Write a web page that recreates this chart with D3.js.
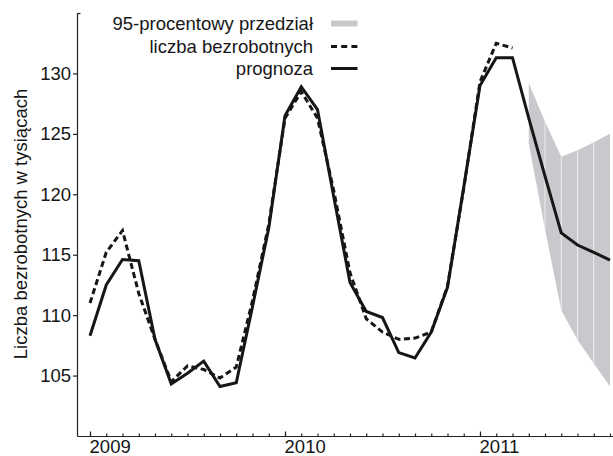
<!DOCTYPE html>
<html>
<head>
<meta charset="utf-8">
<script src="https://cdn.jsdelivr.net/npm/d3@7"></script>
<style>
  body { margin: 0; background: #fff; }
  text { font-family: "Liberation Sans", Arial, sans-serif; }
</style>
</head>
<body>
<div id="chart-container"></div>
<script>
// monthly data, Jan 2009 - Sep 2011
var months = ["2009-01","2009-02","2009-03","2009-04","2009-05","2009-06","2009-07","2009-08","2009-09","2009-10","2009-11","2009-12",
              "2010-01","2010-02","2010-03","2010-04","2010-05","2010-06","2010-07","2010-08","2010-09","2010-10","2010-11","2010-12",
              "2011-01","2011-02","2011-03","2011-04","2011-05","2011-06","2011-07","2011-08","2011-09"];

// liczba bezrobotnych (Jan 2009 - Mar 2011)
var actual = [111.0, 115.2, 117.0, 111.8, 108.0, 104.5, 105.8, 105.5, 104.8, 105.7, 111.2, 117.5,
              126.3, 128.5, 126.3, 120.3, 113.5, 109.7, 108.6, 108.0, 108.1, 108.6, 112.4, 120.5,
              129.3, 132.5, 132.1];

// prognoza (Jan 2009 - Sep 2011)
var forecast = [108.3, 112.5, 114.6, 114.5, 108.0, 104.3, 105.2, 106.2, 104.1, 104.4, 110.7, 117.2,
                126.5, 128.9, 127.0, 119.8, 112.7, 110.3, 109.8, 106.9, 106.45, 108.6, 112.3, 120.6,
                129.0, 131.3, 131.3, 126.3, 121.5, 116.8, 115.8, 115.2, 114.55];

// 95-procentowy przedzial
var bandMonths = ["2011-04","2011-05","2011-06","2011-07","2011-08","2011-09"];
var lower = [124.2, 117.1, 110.4, 107.95, 106.0, 104.1];
var upper = [129.2, 126.0, 123.1, 123.65, 124.3, 125.0];

var yTicks = [105, 110, 115, 120, 125, 130];
var yearTicks = ["2009-01", "2010-01", "2011-01"];

var legendItems = ["95-procentowy przedział", "liczba bezrobotnych", "prognoza"];

var W = 613, H = 456;
var ink = "#161616";

var svg = d3.select("#chart-container")
    .append("svg")
    .attr("width", W)
    .attr("height", H);

var x = d3.scaleLinear()
    .domain([-0.8, 32.2])
    .range([77, 613.25]);

var y = d3.scaleLinear()
    .domain([100, 135])
    .range([436, 13]);

function mi(m) { return months.indexOf(m); }

// band, one piece per month so the white seams show
var band = bandMonths.map(function(m, i) {
    return { i: mi(m), lo: lower[i], hi: upper[i] };
});
var area = d3.area()
    .x(function(d) { return x(d.i); })
    .y0(function(d) { return y(d.lo); })
    .y1(function(d) { return y(d.hi); });

for (var k = 0; k < band.length - 1; k++) {
    svg.append("path")
        .datum([band[k], band[k + 1]])
        .attr("fill", "#c8c9cc")
        .attr("d", area);
}
svg.selectAll("line.seam")
    .data(band.slice(1, band.length - 1))
    .enter().append("line")
    .attr("class", "seam")
    .attr("x1", function(d) { return x(d.i); })
    .attr("x2", function(d) { return x(d.i); })
    .attr("y1", function(d) { return y(d.hi); })
    .attr("y2", function(d) { return y(d.lo); })
    .attr("stroke", "#ededee")
    .attr("stroke-width", 1);

var line = d3.line()
    .x(function(d, i) { return x(i); })
    .y(function(d) { return y(d); });

svg.append("path")
    .datum(actual)
    .attr("fill", "none")
    .attr("stroke", ink)
    .attr("stroke-width", 3)
    .attr("stroke-dasharray", "6,3.5")
    .attr("d", line);

svg.append("path")
    .datum(forecast)
    .attr("fill", "none")
    .attr("stroke", ink)
    .attr("stroke-width", 3)
    .attr("d", line);

// axes
var yAxis = d3.axisLeft(y)
    .tickValues(yTicks)
    .tickSize(4)
    .tickSizeOuter(0)
    .tickPadding(2);

var gy = svg.append("g")
    .attr("transform", "translate(77,0)")
    .call(yAxis);

gy.append("line")
    .attr("x1", 0).attr("x2", 3.5)
    .attr("y1", y(135) + 0.5).attr("y2", y(135) + 0.5);

var xMinor = d3.axisBottom(x)
    .tickValues(d3.range(months.length))
    .tickFormat("")
    .tickSize(-2.5)
    .tickSizeOuter(0);

var xMajor = d3.axisBottom(x)
    .tickValues(yearTicks.map(mi))
    .tickFormat(function(i) { return months[i].slice(0, 4); })
    .tickSize(-4.5)
    .tickSizeOuter(0)
    .tickPadding(4);

var gx = svg.append("g")
    .attr("transform", "translate(0,436)")
    .call(xMinor);

var gx2 = svg.append("g")
    .attr("transform", "translate(0,436)")
    .call(xMajor);
gx2.select(".domain").remove();
gx2.selectAll("text").attr("text-anchor", "start").attr("dx", "-0.05em");

svg.selectAll(".domain, .tick line, g > line")
    .attr("stroke", "#222")
    .attr("stroke-width", 1.2);
svg.selectAll(".tick text")
    .attr("fill", ink)
    .style("font-size", "18.5px");

// y label
svg.append("text")
    .attr("transform", "translate(27,224) rotate(-90)")
    .attr("text-anchor", "middle")
    .attr("fill", ink)
    .style("font-size", "18.5px")
    .text("Liczba bezrobotnych w tysiącach");

// legend
var lg = svg.append("g");
var rowY = [23.5, 46.5, 68.5];
lg.selectAll("text")
    .data(legendItems)
    .enter().append("text")
    .attr("x", 313)
    .attr("y", function(d, i) { return rowY[i] + 6.8; })
    .attr("text-anchor", "end")
    .attr("fill", ink)
    .style("font-size", "18.5px")
    .text(function(d) { return d; });

lg.append("rect")
    .attr("x", 331).attr("y", rowY[0] - 3)
    .attr("width", 26.5).attr("height", 6)
    .attr("fill", "#c8c9cc");
lg.append("line")
    .attr("x1", 331).attr("x2", 357.5)
    .attr("y1", rowY[1]).attr("y2", rowY[1])
    .attr("stroke", ink).attr("stroke-width", 3)
    .attr("stroke-dasharray", "6,4.2");
lg.append("line")
    .attr("x1", 331).attr("x2", 357.5)
    .attr("y1", rowY[2]).attr("y2", rowY[2])
    .attr("stroke", ink).attr("stroke-width", 3);
</script>
</body>
</html>
